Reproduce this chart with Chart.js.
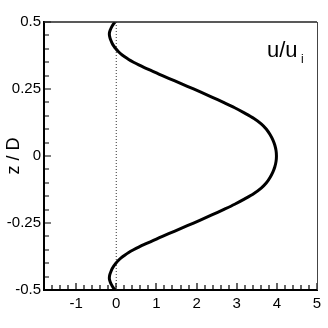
<!DOCTYPE html>
<html>
<head>
<meta charset="utf-8">
<script src="https://cdn.jsdelivr.net/npm/chart.js@4.4.1/dist/chart.umd.min.js"></script>
<style>
  html, body { margin: 0; padding: 0; background: #fff; }
  #wrap { width: 328px; height: 328px; }
</style>
</head>
<body>
<div id="wrap"><canvas id="profile"></canvas></div>
<script>
// z / D positions (top to bottom)
const zValues = [
    0.50, 0.49, 0.48, 0.47, 0.46, 0.45, 0.44, 0.43, 0.42, 0.41,
    0.40, 0.39, 0.38, 0.37, 0.36, 0.35, 0.34, 0.33, 0.32, 0.31,
    0.30, 0.28, 0.26, 0.24, 0.22, 0.20, 0.18, 0.16, 0.14, 0.12,
    0.10, 0.08, 0.06, 0.04, 0.02, 0.00,
    -0.02, -0.04, -0.06, -0.08, -0.10, -0.12, -0.14, -0.16, -0.18, -0.20,
    -0.22, -0.24, -0.26, -0.28, -0.30, -0.31, -0.32, -0.33, -0.34, -0.35,
    -0.36, -0.37, -0.38, -0.39, -0.40, -0.41, -0.42, -0.43, -0.44, -0.45,
    -0.46, -0.47, -0.48, -0.49, -0.50
];
// u / u_i
const uValues = [
    -0.03, -0.08, -0.12, -0.15, -0.17, -0.17, -0.155, -0.13, -0.10, -0.06,
    -0.01, 0.05, 0.12, 0.21, 0.31, 0.43, 0.56, 0.70, 0.85, 1.00,
    1.15, 1.46, 1.77, 2.08, 2.38, 2.67, 2.95, 3.20, 3.43, 3.61,
    3.74, 3.83, 3.90, 3.95, 3.98, 3.99,
    3.98, 3.95, 3.90, 3.83, 3.74, 3.61, 3.43, 3.20, 2.95, 2.67,
    2.38, 2.08, 1.77, 1.46, 1.15, 1.00, 0.85, 0.70, 0.56, 0.43,
    0.31, 0.21, 0.12, 0.05, -0.01, -0.06, -0.10, -0.13, -0.155, -0.17,
    -0.17, -0.15, -0.12, -0.08, -0.03
];

const xTicks = [-1, 0, 1, 2, 3, 4, 5];
const yTicks = [-0.5, -0.25, 0, 0.25, 0.5];
const yTickLabels = ['-0.5', '-0.25', '0', '0.25', '0.5'];
const xMinorStep = 0.2;
const yMinorStep = 0.05;

const fontFamily = '"Liberation Sans", Arial, sans-serif';

// inward ticks, frame and labels drawn on top of the plot
const framePlugin = {
    id: 'frame',
    afterDraw(chart) {
        const { ctx, chartArea: a, scales: { x, y } } = chart;
        ctx.save();
        ctx.strokeStyle = '#000';
        ctx.lineWidth = 1.2;
        ctx.beginPath();
        // x ticks
        const nx = Math.round((x.max - x.min) / xMinorStep);
        for (let i = 0; i <= nx; i++) {
            const v = x.min + i * xMinorStep;
            const px = Math.round(x.getPixelForValue(v));
            const major = Math.abs(v - Math.round(v)) < 1e-6;
            ctx.moveTo(px, a.bottom);
            ctx.lineTo(px, a.bottom - (major ? 7 : 5));
        }
        // y ticks
        const ny = Math.round((y.max - y.min) / yMinorStep);
        for (let i = 0; i <= ny; i++) {
            const v = y.min + i * yMinorStep;
            const py = Math.round(y.getPixelForValue(v));
            const major = Math.abs(v / 0.25 - Math.round(v / 0.25)) < 1e-6;
            ctx.moveTo(a.left, py);
            ctx.lineTo(a.left + (major ? 7 : 5), py);
        }
        ctx.stroke();

        // top and right frame
        ctx.strokeStyle = '#222';
        ctx.lineWidth = 1.5;
        ctx.beginPath();
        ctx.moveTo(a.left, a.top);
        ctx.lineTo(a.right, a.top);
        ctx.stroke();
        ctx.strokeStyle = '#444';
        ctx.lineWidth = 1;
        ctx.beginPath();
        ctx.moveTo(a.right + 0.5, a.top);
        ctx.lineTo(a.right + 0.5, a.bottom);
        ctx.stroke();

        // y axis title
        ctx.fillStyle = '#000';
        ctx.save();
        ctx.translate(19, (a.top + a.bottom) / 2);
        ctx.rotate(-Math.PI / 2);
        ctx.font = '18px ' + fontFamily;
        ctx.textAlign = 'center';
        ctx.textBaseline = 'alphabetic';
        ctx.fillText('z / D', 0, 0);
        ctx.restore();

        // u/u_i label
        ctx.font = '22px ' + fontFamily;
        ctx.textAlign = 'left';
        ctx.textBaseline = 'alphabetic';
        ctx.fillText('u/u', 267, 57);
        ctx.font = '12px ' + fontFamily;
        ctx.fillText('i', 301, 63);
        ctx.restore();
    }
};

new Chart(document.getElementById('profile'), {
    type: 'scatter',
    data: {
        datasets: [
            {
                data: zValues.map((z, i) => ({ x: uValues[i], y: z })),
                showLine: true,
                borderColor: '#000',
                borderWidth: 3,
                pointRadius: 0,
                tension: 0.3,
                order: 1
            },
            {
                data: [{ x: 0, y: -0.5 }, { x: 0, y: 0.5 }],
                showLine: true,
                borderColor: '#333',
                borderWidth: 1,
                borderDash: [1, 2],
                pointRadius: 0,
                order: 2
            }
        ]
    },
    options: {
        responsive: true,
        maintainAspectRatio: false,
        animation: false,
        layout: { padding: { top: 22, right: 11, left: 0, bottom: 0 } },
        plugins: {
            legend: { display: false },
            tooltip: { enabled: false }
        },
        scales: {
            x: {
                type: 'linear',
                min: -1.8,
                max: 5,
                afterBuildTicks: s => { s.ticks = xTicks.map(v => ({ value: v })); },
                afterFit: s => { s.height = 38; },
                grid: { display: false, drawTicks: false },
                border: { color: '#000', width: 2 },
                ticks: {
                    padding: 5,
                    color: '#000',
                    font: { family: fontFamily, size: 15 },
                    maxRotation: 0,
                    callback: v => String(v)
                }
            },
            y: {
                type: 'linear',
                min: -0.5,
                max: 0.5,
                afterBuildTicks: s => { s.ticks = yTicks.map(v => ({ value: v })); },
                afterFit: s => { s.width = 44; },
                grid: { display: false, drawTicks: false },
                border: { color: '#000', width: 2 },
                ticks: {
                    padding: 3,
                    color: '#000',
                    font: { family: fontFamily, size: 15 },
                    callback: v => yTickLabels[yTicks.indexOf(v)]
                }
            }
        }
    },
    plugins: [framePlugin]
});
</script>
</body>
</html>
